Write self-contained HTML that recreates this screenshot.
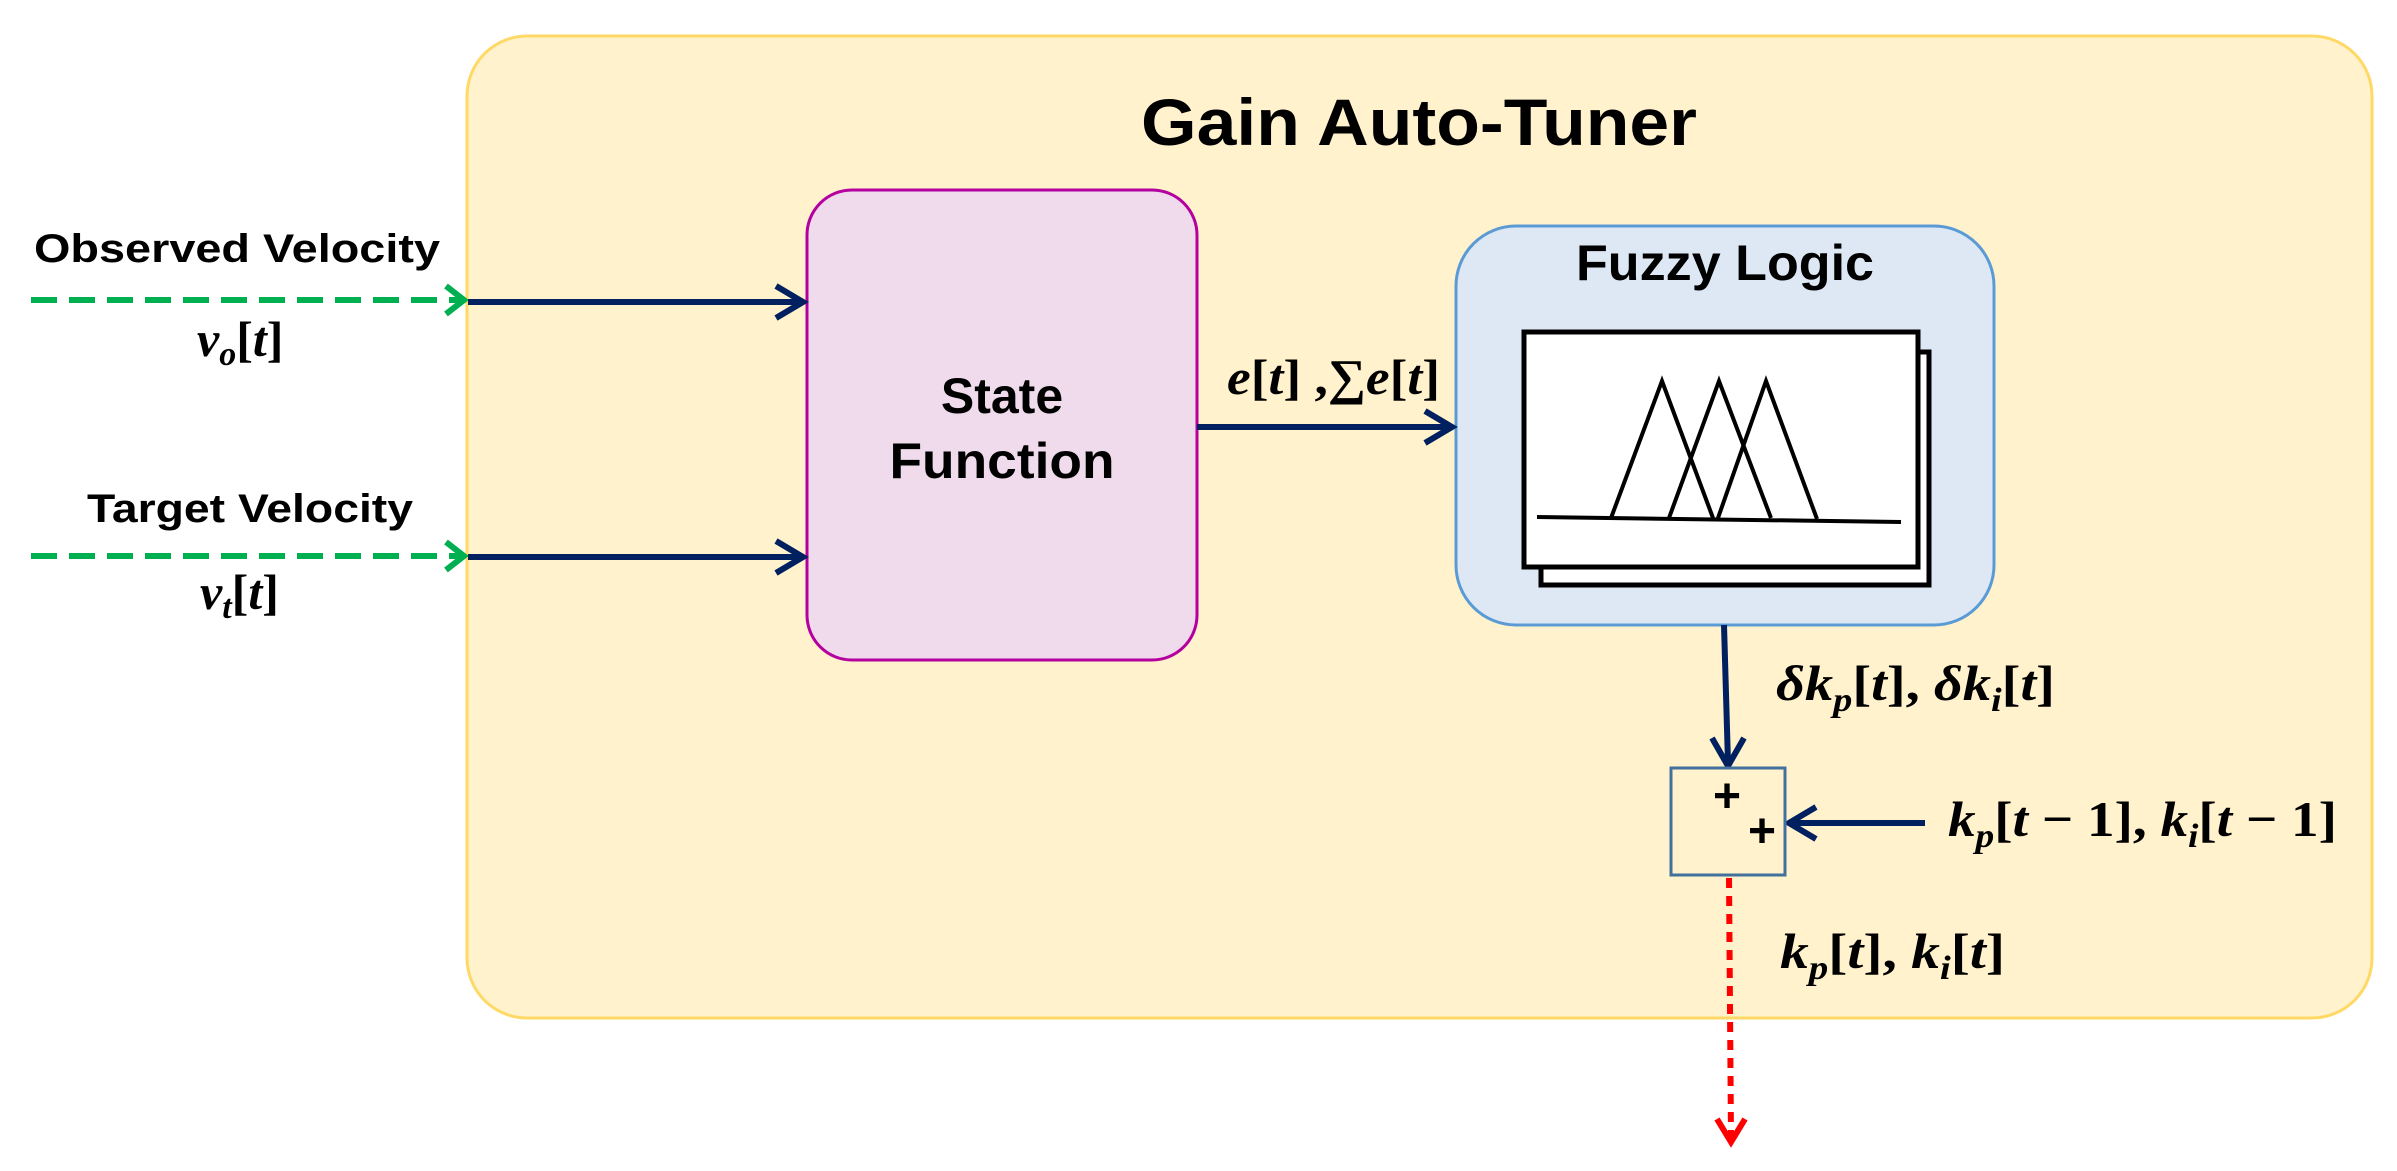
<!DOCTYPE html>
<html><head><meta charset="utf-8"><style>
html,body{margin:0;padding:0;background:#fff;}
svg{display:block;}
.s{font-family:"Liberation Sans",sans-serif;font-weight:bold;fill:#000;}
.m{font-family:"Liberation Serif",serif;font-weight:bold;font-style:italic;fill:#000;font-size:50px;}
.n{font-style:normal;}
</style></head><body>
<svg width="2397" height="1171" viewBox="0 0 2397 1171" xmlns="http://www.w3.org/2000/svg">
<rect x="467" y="36" width="1905" height="982" rx="60" fill="#fff2cc" stroke="#ffd966" stroke-width="3"/>
<text class="s" x="1419" y="145" font-size="66" text-anchor="middle" textLength="556" lengthAdjust="spacingAndGlyphs">Gain Auto-Tuner</text>

<rect x="807" y="190" width="390" height="470" rx="45" fill="#f0dbec" stroke="#b4009e" stroke-width="3"/>
<text class="s" x="1002" y="413" font-size="50" text-anchor="middle">State</text>
<text class="s" x="1002" y="478" font-size="50" text-anchor="middle" textLength="225" lengthAdjust="spacingAndGlyphs">Function</text>

<rect x="1456" y="226" width="538" height="399" rx="60" fill="#dee8f5" stroke="#5b9bd5" stroke-width="3"/>
<text class="s" x="1725" y="280" font-size="50" text-anchor="middle" textLength="298" lengthAdjust="spacingAndGlyphs">Fuzzy Logic</text>
<rect x="1541" y="352" width="388" height="233" fill="#fff" stroke="#000" stroke-width="5"/>
<rect x="1524" y="332" width="394" height="235" fill="#fff" stroke="#000" stroke-width="5"/>
<g fill="none" stroke="#000" stroke-width="4">
<line x1="1537" y1="517" x2="1901" y2="522"/>
<polyline points="1611,518 1662,381 1713,518"/>
<polyline points="1669,518 1719,381 1771,518"/>
<polyline points="1718,518 1766,381 1817,519"/>
</g>

<g stroke="#00b050" stroke-width="6" fill="none">
<line x1="31" y1="300" x2="460" y2="300" stroke-dasharray="26,12"/>
<polyline points="446,286 464,300 446,314"/>
<line x1="31" y1="556" x2="460" y2="556" stroke-dasharray="26,12"/>
<polyline points="446,542 464,556 446,570"/>
</g>
<g stroke="#002060" stroke-width="6" fill="none">
<line x1="468" y1="302" x2="802" y2="302"/>
<polyline points="776,286 803,302 776,318"/>
<line x1="468" y1="557" x2="802" y2="557"/>
<polyline points="776,541 803,557 776,573"/>
<line x1="1197" y1="427" x2="1451" y2="427"/>
<polyline points="1425,411 1452,427 1425,443"/>
<line x1="1724" y1="625" x2="1728" y2="763"/>
<polyline points="1712,738 1728,766 1744,738"/>
<line x1="1925" y1="823" x2="1792" y2="823"/>
<polyline points="1816,807 1789,823 1816,839"/>
</g>
<text class="s" x="34" y="262" font-size="40" textLength="406" lengthAdjust="spacingAndGlyphs">Observed Velocity</text>
<text class="s" x="87" y="522" font-size="40" textLength="326" lengthAdjust="spacingAndGlyphs">Target Velocity</text>
<text class="m" x="197" y="356">v<tspan font-size="34" dy="9">o</tspan><tspan class="n" dy="-9">[</tspan>t<tspan class="n">]</tspan></text>
<text class="m" x="200" y="609">v<tspan font-size="34" dy="9">t</tspan><tspan class="n" dy="-9">[</tspan>t<tspan class="n">]</tspan></text>
<text class="m" x="1227" y="394" textLength="213" lengthAdjust="spacingAndGlyphs">e<tspan class="n">[</tspan>t<tspan class="n">] ,∑</tspan>e<tspan class="n">[</tspan>t<tspan class="n">]</tspan></text>

<rect x="1671" y="768" width="114" height="107" fill="#fff2cc" stroke="#41719c" stroke-width="3"/>
<text class="s" x="1727" y="812" font-size="48" text-anchor="middle">+</text>
<text class="s" x="1762" y="847" font-size="48" text-anchor="middle">+</text>

<text class="m" x="1776" y="700" textLength="279" lengthAdjust="spacingAndGlyphs">δk<tspan font-size="34" dy="11">p</tspan><tspan class="n" dy="-11">[</tspan>t<tspan class="n">], </tspan>δk<tspan font-size="34" dy="11">i</tspan><tspan class="n" dy="-11">[</tspan>t<tspan class="n">]</tspan></text>
<text class="m" x="1948" y="836" textLength="389" lengthAdjust="spacingAndGlyphs">k<tspan font-size="34" dy="11">p</tspan><tspan class="n" dy="-11">[</tspan>t<tspan class="n"> − 1], </tspan>k<tspan font-size="34" dy="11">i</tspan><tspan class="n" dy="-11">[</tspan>t<tspan class="n"> − 1]</tspan></text>
<text class="m" x="1780" y="968" textLength="225" lengthAdjust="spacingAndGlyphs">k<tspan font-size="34" dy="11">p</tspan><tspan class="n" dy="-11">[</tspan>t<tspan class="n">], </tspan>k<tspan font-size="34" dy="11">i</tspan><tspan class="n" dy="-11">[</tspan>t<tspan class="n">]</tspan></text>

<g stroke="#ff0000" stroke-width="6" fill="none">
<line x1="1729" y1="878" x2="1731" y2="1138" stroke-dasharray="10,8"/>
<polyline points="1717,1119 1731,1142 1745,1119"/>
</g>
</svg>
</body></html>
